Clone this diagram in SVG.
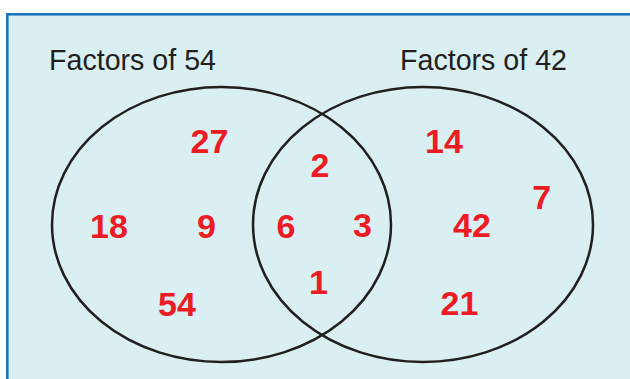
<svg xmlns="http://www.w3.org/2000/svg" width="630" height="379" viewBox="0 0 630 379">
<style>
.title{font-family:"Liberation Sans",Arial,sans-serif;font-size:29px;fill:#231f20}
.num{font-family:"Liberation Sans",Arial,sans-serif;font-size:34px;font-weight:bold;fill:#ed1c24;text-anchor:middle}
.set{fill:none;stroke:#231f20;stroke-width:2.5}
</style>
<rect x="7.3" y="14.3" width="640" height="400" fill="#d9eff2" stroke="#1b75bc" stroke-width="2.6"/>
<g id="connectors"></g>
<g id="set54">
<ellipse class="set" cx="221.5" cy="224.5" rx="169.5" ry="137.5"/>
<text class="title" x="49" y="70" textLength="167" lengthAdjust="spacingAndGlyphs">Factors of 54</text>
</g>
<g id="set42">
<ellipse class="set" cx="423" cy="224.5" rx="170" ry="137.5"/>
<text class="title" x="400" y="70" textLength="167" lengthAdjust="spacingAndGlyphs">Factors of 42</text>
</g>
<g id="n27"><text class="num" x="209.5" y="153">27</text></g>
<g id="n18"><text class="num" x="109" y="237.5">18</text></g>
<g id="n9"><text class="num" x="206.5" y="237.5">9</text></g>
<g id="n54"><text class="num" x="177" y="316">54</text></g>
<g id="n2"><text class="num" x="320" y="177.3">2</text></g>
<g id="n6"><text class="num" x="286" y="237.5">6</text></g>
<g id="n3"><text class="num" x="362.5" y="237">3</text></g>
<g id="n1"><text class="num" x="318.5" y="294">1</text></g>
<g id="n14"><text class="num" x="444" y="152.5">14</text></g>
<g id="n7"><text class="num" x="541.7" y="209.3">7</text></g>
<g id="n42"><text class="num" x="472" y="237">42</text></g>
<g id="n21"><text class="num" x="459.5" y="315">21</text></g>
</svg>
